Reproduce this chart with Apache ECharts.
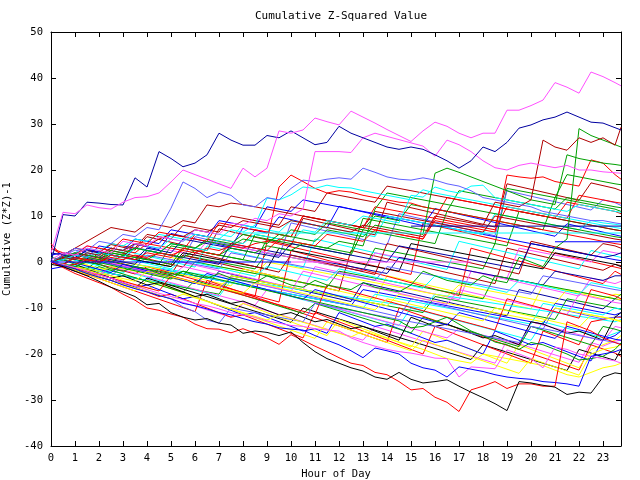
<!DOCTYPE html>
<html><head><meta charset="utf-8">
<script src="https://cdn.jsdelivr.net/npm/echarts@6/dist/echarts.min.js"></script>
<style>html,body{margin:0;padding:0;background:#fff}#c{width:640px;height:480px}</style>
</head><body><div id="c"></div>
<script>
const hours = [0,0.5,1,1.5,2,2.5,3,3.5,4,4.5,5,5.5,6,6.5,7,7.5,8,8.5,9,9.5,10,10.5,11,11.5,12,12.5,13,13.5,14,14.5,15,15.5,16,16.5,17,17.5,18,18.5,19,19.5,20,20.5,21,21.5,22,22.5,23,23.5,23.75];
const hourLabels = ['0','1','2','3','4','5','6','7','8','9','10','11','12','13','14','15','16','17','18','19','20','21','22','23'];
const yTicks = [-40,-30,-20,-10,0,10,20,30,40,50];

const s01 = [2,10.8,10.5,12.4,11.8,11.5,13,14,14.2,15,17.4,20,19,18,17,16,20.4,18.5,20.4,28.5,28,28.7,31.3,30.5,29.8,32.8,31.5,30.2,28.8,27.5,26.2,28.5,30.4,29.5,28,27,28,28,33,33,34,35.2,39,38,36.7,41.3,40.3,39,38.3];
const s02 = [0,10.3,10,13,12.8,12.5,12.4,18.3,16.3,24,22.5,20.7,21.5,23.3,28,26.5,25.4,25.4,27.5,27,28.5,27,25.5,26,29.5,28,27,26,25,24.5,25,24.5,23.3,22,20.4,22,25,24,26,29.1,29.8,30.9,31.5,32.6,31.5,30.4,30.2,29.2,28.7];
const s03 = [0.5,2,1.5,3,2.5,2,4.5,4,3.5,5.5,5,4.5,7,6.5,6,8.5,8,9.5,9,10.5,10,11.5,24,24,24,23.8,27,28,27.3,26.6,25.9,25.2,23,26.5,25.5,24,22,20.5,20,21,21.5,21,20.5,21,20,20,19.6,19.4,19.3];
const s04 = [0,1.5,3,2.5,4.5,4,6,5.5,7.5,7,11.7,17.4,16,14,15.2,14.5,12.4,12,14,13.5,16,17.8,17.5,18,18.3,18,20.4,19.5,18.5,18,17.8,18.3,17.8,17,16.5,15.5,14,13.5,13,12.5,12,11,10.5,10,9.5,9,9,8.5,8.3];
const s05 = [-0.5,-1,-2,-3,-4.2,-5.5,-6.5,-7.5,-9.3,-9,-11,-12,-12.6,-12.3,-13.3,-13.7,-15.5,-15,-15.3,-16,-15.2,-17.5,-19.5,-21,-22,-23,-23.7,-25,-25.5,-24,-25.5,-26.3,-26,-25.6,-27,-28.3,-29.5,-30.8,-32.3,-26,-26.3,-26.8,-27.2,-28.8,-28.3,-28.5,-25,-24.1,-24.3];
const s06 = [0,-1.2,-2.5,-3.5,-4.5,-5.5,-7,-8.3,-10,-10.5,-11.3,-12,-13.5,-14.5,-14.6,-15.4,-14.5,-15.5,-16.5,-17.9,-15.8,-17,-18.3,-19.5,-20.8,-22,-22.5,-24,-24.5,-26,-27.8,-27.5,-29.4,-30.5,-32.5,-27.8,-27,-26,-27.5,-26.5,-26.5,-27,-27,-13,-14,-15,-16.5,-17.5,-18];
const s07 = [0,-0.8,-1.5,-2.5,-3.3,-4,-5,-5.8,-6.5,-7.3,-8,-9,-9.5,-10.2,-11,-11.5,-12.3,-13,-13.5,-14.3,-14.6,-14.8,-16,-17,-18,-19.3,-20.8,-18.7,-19.3,-20,-22,-23,-23.5,-25,-22.8,-23.3,-23.8,-24.5,-25,-25.3,-25.5,-26,-26.2,-26.5,-27,-20.5,-20,-19.5,-19];
const s08 = [0,-0.5,-1.2,-2,-2.8,-3.5,-4.5,-5.2,-6,-6.8,-7.5,-8.2,-9,-9.5,-10.2,-11,-11.5,-12,-12.8,-13.3,-13.8,-14,-14.5,-14.8,-15,-16.5,-17.5,-18.3,-19,-19.5,-19.8,-20.3,-20.9,-21,-25,-22.8,-23,-23.2,-19.1,-20,-21,-23,-18.5,-19,-20,-20.5,-21,-21.5,-22];
const s09 = [0,1,0.5,2,1.5,3,2.5,4,3.5,5,6,5.5,7,6.5,8,7.5,9,8.5,8,7.5,9,8.5,8,7.5,7,6.5,8,7.5,7,6.5,6,5.5,10,9.5,9,8.5,8,13,12.5,12,13.5,26.5,25,24.3,27,26,27,25.4,29.3];
const s10 = [0,-0.5,-1,0,-0.5,-1.5,-2,-1,-1.5,-2.5,-3,-2,-3,-3.5,-2.5,-3.5,-4,-4.5,-3,-4,-5,-5.5,-4,-5,-5.5,-6,-4.5,-5.5,-6,-6.5,-5,-2,-3,-4,-4.5,-5,-3,-4,-4.5,1,0,-1,3,5,29,27.5,26.5,25.5,25];
const s11 = [0,1,2,1.5,1,2.5,2,3,2.5,2,4,3.5,3,4.5,4,3.5,5,4.5,4,6,5.5,5,4.5,7,6.5,6,5.5,8,7.5,7,6.5,6,19.3,20.4,19.5,18.5,17.5,16.5,15.5,14.5,13.5,13,12.5,23.3,22.5,22,21.5,21.2,21];
const s12 = [0,-0.5,1,0.5,0,1.5,1,0.5,2,1.5,1,3,2.5,2,1.5,4,3.5,3,2.5,5,4.5,4,3.5,6,5.5,5,4.5,7,6.5,6,5.5,5,9,8.5,8,7.5,7,6.5,18.9,18.5,18.2,18.5,17.5,17,16.5,22.2,21.5,19,18];
const s13 = [0,0.5,1.5,1,2,1.5,1,3,2.5,2,4,3.5,3,2.5,5,4.5,4,6,5.5,5,4.5,7,6.5,9,8.5,8,10,9.5,9,8.5,14.5,14.1,16.3,15.5,15,16.5,16.7,14,13.5,13,12.5,12,11.5,11,12.5,12,11.5,11,10.8];
const s14 = [0,1,0.5,2,1.5,3,2.5,4,3.5,3,5,4.5,6,5.5,5,7,6.5,8,13.9,13.5,14.6,16.3,16,16.7,16.2,16.1,15.5,15,14.5,14,13.5,15.7,15,14.5,14,13.5,13,12.5,12,11.5,11,10.5,10,9.5,9,8.5,8,7.5,7.3];
const s15 = [0,-1,-0.5,0.5,0,1,0.5,1.5,1,2,1.5,2.5,2,3,2.5,3.5,3,4,4.5,16.3,18.9,17.5,16,15,15.5,15.2,14.5,14,13.5,13,12.8,12,11.5,11,10.5,10,9.5,9,8.5,8,7.5,7,6.5,6,5.5,5,4.5,4,3.8];
const s16 = [0,0.5,-0.5,1,0.5,0,1.5,1,0.5,2,1.5,1,2.5,2,1.5,3,2.5,2,3.5,3,2.5,4,3.5,3,4.5,4,3.5,11.5,15,14.5,14,13.5,13,12.5,12,11.5,11,10.5,10,9.5,9,8.5,8,7.5,7,6.5,6,5.5,5.3];
const s17 = [0,1.5,3,4.5,6,7.5,7,6.5,8.5,8,7.5,9,8.5,12.4,12,12.8,12.5,12,11.5,11,10.5,10,9.5,9,8.5,8,7.5,11,10.5,10,9.5,9,8.5,8,7.5,7,6.5,10,9.5,9,8.5,8,7.5,7,6.5,6,5.5,5,4.8];
const s18 = [0,-0.5,-1.2,-1.8,-2.5,-3,-3.6,-4.2,-2,-2.6,-3.2,-3.8,-4.5,-5,-5.6,-6.2,-6.8,-4.5,-5,-5.6,-6.2,-6.8,-7.4,-8,-8.6,-9.2,-9.8,-10.4,-8,-8.6,-9.2,-9.8,-10.4,-11,-11.6,-12.2,-12.8,-10,-10.6,-11.2,-11.8,-12.4,-13,-13.6,-14.2,-11.5,-12,-12.6,-13];
const s19 = [0,-0.8,-1.6,-2.4,-3.2,-4,-4.8,-5.6,-6.4,-7.2,-8,-7,-7.8,-8.6,-9.4,-10.2,-11,-11.8,-12.6,-11.5,-12.3,-13.1,-13.9,-14.7,-15.5,-16.3,-15,-15.8,-16.6,-17.4,-18.2,-19,-20,-21,-21.5,-22,-20,-20.5,-21,-21.5,-22,-22.5,-23.5,-24.5,-25,-24,-23,-22.5,-22];
const s20 = [0,-0.6,-1.2,0.5,-0.1,-0.7,-1.3,-1.9,-2.5,-3.1,-3.7,-2,-2.6,-3.2,-3.8,-4.4,-5,-5.6,-6.2,-6.8,-7.4,-8,-8.6,-9.2,-9.8,-10.4,-11,-11.6,-12.2,-12.8,-14.3,-14,-13,-12,-13.5,-15,-16,-17.4,-18,-19,-17.5,-18,-19,-20,-21.3,-21,-20.5,-19,-17.6];
const s21 = [0,0.5,-0.2,-0.9,-1.6,-2.3,-0.5,-1.2,-1.9,-2.6,-3.3,-4,-4.7,-2.5,-3.2,-3.9,-4.6,-5.3,-6,-6.7,-7.4,-8.1,-6,-6.7,-7.4,-8.1,-8.8,-9.5,-10.2,-10.9,-11.6,-12.3,-13,-13.7,-11,-11.7,-12.4,-13.1,-13.8,-14.5,-15.2,-15.9,-16.6,-14,-14.7,-15.4,-16.1,-16.8,-17];
const s22 = [0,-0.8,-1.6,-2.4,-3.2,-4,-4.8,-5.6,-6.4,-7.2,-8,-9.8,-10.8,-12.6,-13.3,-10,-10.5,-11,-11.5,-12,-12.5,-13,-9,-9.5,-10,-10.5,-11,-11.5,-12,-12.5,-13,-13.5,-14,-14.5,-15,-15.5,-16,-16.5,-17,-17.5,-14,-14.5,-15,-15.5,-16,-16.5,-17,-17.5,-17.8];
const s23 = [0,1,0.4,-0.2,-0.8,1.5,0.9,0.3,-0.3,-0.9,-1.5,0.5,-0.1,-0.7,-1.3,-1.9,-2.5,-3.1,-1,-1.6,-2.2,-2.8,-3.4,-4,-1.5,-2.1,-2.7,-3.3,-3.9,-4.5,-5.1,-5.7,-3,-3.6,-4.2,-4.8,-5.4,-6,-6.6,-4,-4.6,-5.2,-5.8,-6.4,-7,-4.5,-5,-5.5,-5.8];
const s24 = [0,-0.7,-1.4,-2.1,-2.8,-3.5,-4.2,-4.9,-5.6,-6.3,-3,-3.7,-4.4,-5.1,-5.8,-6.5,-7.2,-7.9,-8.6,-9.3,-10,-10.7,-11.4,-5,-5.7,-6.4,-7.1,-7.8,-8.5,-9.2,-9.9,-10.6,-11.3,-12,-12.7,-13.4,-14.1,-14.8,-8,-8.7,-9.4,-10.1,-10.8,-11.5,-12.2,-6,-6.7,-7.4,-8];
const s25 = [2,1.5,1,2.5,2,1.5,1,0.5,3,2.5,2,5,4.5,4,3.5,3,2.5,2,1.5,1,4,3.5,3,2.5,2,1.5,1,0.5,0,3.5,3,2.5,2,1.5,1,0.5,0,-0.5,-1,-1.5,4,3.5,3,2.5,2,1.5,1,1.5,2];
const s26 = [0,-0.5,1,0.5,0,2,1.5,1,0.5,0,-0.5,3,2.5,2,1.5,1,0.5,0,5,4.5,4,3.5,3,2.5,2,1.5,7,6.5,6,5.5,5,4.5,4,11,10.5,10,9.5,9,8.5,8,7.5,7,14,13.5,13,12.5,12,11.5,11];
const s27 = [0,-0.6,-1.2,1,0.4,-0.2,-0.8,-1.4,-2,-2.6,-3.2,-1,-1.6,-2.2,-2.8,-3.4,-4,-4.6,-5.2,-5.8,-6.4,-2,-2.6,-3.2,-3.8,-4.4,-5,-5.6,-6.2,-6.8,-7.4,-8,-8.6,-9.2,-6,-6.6,-7.2,-7.8,-8.4,-9,-9.6,-10.2,-10.8,-11.4,-7,-7.6,-8.2,-8.8,-9];
const s28 = [0,-0.5,-1,-1.5,-2,-1,-1.5,-2,-2.5,-3,-3.5,-4,-4.5,-5,-5.5,-3,-3.5,-4,-4.5,-5,-5.5,-6,-6.5,-7,-7.5,-8,-8.5,-9,-9.5,-7,-7.5,-8,-8.5,-9,-9.5,-10,-10.5,-11,-11.5,-12,-12.5,-13,-10,-10.5,-11,-11.5,-12,-12.5,-12.8];
const s29 = [0,-1,-0.5,-1.5,-2.5,-3.5,-3,-4,-5,-4.5,-5.5,-6.5,-7.5,-7,-8,-9,-8.5,-9.5,-10.5,-11.5,-11,-12,-13,-12.5,-13.5,-14.5,-14,-15,-16,-17,-12,-13,-14,-13.5,-14.5,-15.5,-16.5,-16,-17,-18,-13,-13.5,-14.5,-15.5,-15,-16,-17,-12,-11];
const s30 = [0,0.8,1.6,1,0.4,2.5,1.9,1.3,0.7,0.1,-0.5,-1.1,2,1.4,0.8,0.2,-0.4,-1,-1.6,-2.2,1.5,0.9,0.3,-0.3,-0.9,-1.5,-2.1,-2.7,4,3.4,2.8,2.2,1.6,1,0.4,-0.2,-0.8,-1.4,-2,-2.6,4.5,3.9,3.3,2.7,2.1,1.5,4,3.5,3];
const s31 = [3,2,1.5,3.5,3,2.5,5,4.5,4,6.5,6,5.5,5,4.5,8.5,8,7.5,7,6.5,6,5.5,10,9.5,9,8.5,8,7.5,7,6.5,6,5.5,5,9.5,9,8.5,8,7.5,7,12,11.5,11,10.5,10,9.5,14.5,14,13.5,13,12.8];
const s32 = [0,1,2,3,2.5,4,3.5,5,4.5,6,5.5,5,7,6.5,6,5.5,8,7.5,7,6.5,9,8.5,8,7.5,7,6.5,6,5.5,10,9.5,9,8.5,8,7.5,7,6.5,6,10.5,10,9.5,9,8.5,8,7.5,7,9,8.5,8.2,8];
const s33 = [0,-0.8,-1.6,-2.4,-1,-1.8,-2.6,-3.4,-4.2,-5,-5.8,-6.6,-4,-4.8,-5.6,-6.4,-7.2,-8,-8.8,-9.6,-10.4,-11.2,-9,-9.8,-10.6,-11.4,-12.2,-13,-13.8,-14.6,-15.4,-12,-12.8,-13.6,-14.4,-15.2,-16,-16.8,-17.6,-18.4,-14,-14.8,-15.6,-16.4,-17.2,-18,-14,-14.6,-15];
const s34 = [1.5,2,1.5,1,3.5,3,2.5,5,4.5,4,7,6.5,6,5.5,9,8.5,8,7.5,12,11.5,11,13.5,13,12.5,12,11.5,11,10.5,10,9.5,9,8.5,8,7.5,7,6.5,6,5.5,5,4.5,4,3.5,3,2.5,2,1.5,1,0.5,0.3];
const s35 = [0,-0.5,-1,0.5,0,-0.5,-1,-1.5,1.5,1,0.5,0,-0.5,-1,-1.5,2,1.5,1,0.5,0,-0.5,-1,-1.5,-2,-2.5,-3,-3.5,-4,-1,-1.5,-2,-2.5,-3,-3.5,-4,-4.5,-5,-5.5,-6,-6.5,-7,-3,-3.5,-4,-4.5,-5,-5.5,-6,-6.2];
const s36 = [0,-0.7,-1.4,-2.1,-2.8,-1,-1.7,-2.4,-3.1,-3.8,-4.5,-5.2,-5.9,-6.6,-7.3,-8,-8.7,-9.4,-6,-6.7,-7.4,-8.1,-8.8,-9.5,-10.2,-10.9,-11.6,-12.3,-13,-13.7,-14.4,-15.1,-15.8,-16.5,-14.5,-15.2,-15.9,-16.6,-17.3,-18,-13,-13.7,-14.4,-15.1,-15.8,-16.5,-17.2,-14,-14.3];
const s37 = [0,-0.9,-1.8,-2.7,-3.6,-4.5,-5.4,-6.3,-4,-4.9,-5.8,-6.7,-7.6,-8.5,-9.4,-10.3,-11.2,-12.1,-13,-13.9,-14.8,-15.7,-16.6,-13,-13.9,-14.8,-15.7,-16.6,-17.5,-18.4,-19.3,-17,-17.9,-18.8,-19.7,-20.6,-21.5,-22.4,-23.3,-24.2,-21,-21.9,-22.8,-23.7,-24.6,-20,-19,-18.5,-18];
const s38 = [0,1,0.5,0,-0.5,1.5,1,0.5,0,-0.5,-1,2,1.5,1,0.5,0,-0.5,-1,-1.5,3,2.5,2,1.5,1,0.5,0,-0.5,-1,-1.5,-2,4,3.5,3,2.5,2,1.5,1,0.5,0,-0.5,-1,-1.5,2,1.5,1,0.5,0,-0.5,-1];
const s39 = [0,-0.5,-1,-1.5,0.5,0,-0.5,-1,-1.5,-2,-2.5,-3,0,-0.5,-1,-1.5,-2,-2.5,-3,-3.5,-4,-4.5,-5,-5.5,-2,-2.5,-3,-3.5,-4,-4.5,-5,-5.5,-6,-6.5,-7,-7.5,-8,-3,-3.5,-4,-4.5,-5,-5.5,-6,-6.5,-7,-7.5,-8,-7];
const s40 = [4,1,2,1.5,1,3,2.5,2,4,3.5,3,2.5,6,5.5,5,4.5,4,7,6.5,6,5.5,10,9.5,9,8.5,8,7.5,12,11.5,11,10.5,10,9.5,14,13.5,13,12.5,12,11.5,11,10.5,10,9.5,13,12.5,12,11.5,11,10.5];
const s41 = [3,1.5,3,2.5,2,4,3.5,3,6,5.5,5,8,7.5,7,6.5,10,9.5,9,8.5,8,12,11.5,11,15,14.5,14,13.5,13,16.5,16,15.5,15,14.5,14,13.5,13,12.5,12,11.5,11,10.5,10,9.5,9,8.5,8,7.5,7,6.8];
const s42 = [0,-0.6,-1.2,-1.8,-2.4,-3,-1,-1.6,-2.2,-2.8,-3.4,-4,-4.6,-5.2,-5.8,-3.5,-4.1,-4.7,-5.3,-5.9,-6.5,-7.1,-7.7,-8.3,-8.9,-9.5,-10.1,-10.7,-11.3,-11.9,-8,-8.6,-9.2,-9.8,-10.4,-11,-11.6,-12.2,-12.8,-13.4,-14,-14.6,-10,-10.6,-11.2,-11.8,-12.4,-12,-11.8];
const s43 = [0,-0.5,-1,-1.5,-2,-2.5,-3,-3.5,-4,-4.5,-2,-2.5,-3,-3.5,-4,-4.5,-5,-5.5,-6,-6.5,-7,-7.5,-8,-8.5,-9,-9.5,-10,-7,-7.5,-8,-8.5,-9,-9.5,-10,-10.5,-11,-11.5,-12,-12.5,-13,-13.5,-9,-9.5,-10,-10.5,-11,-11.5,-10,-10.2];
const s44 = [-1.5,-1,-2,-1.5,-2.5,-3.5,-4.5,-5.5,-5,-6,-7,-8,-7.5,-8.5,-9.5,-10.5,-11.5,-11,-12,-13,-14,-15,-14.5,-15.5,-11,-12,-13,-14,-13.5,-14.5,-15.5,-16.5,-17.5,-17,-18,-19,-20,-15,-16,-17,-18,-17.5,-18.5,-19.5,-20.5,-21.5,-17,-16,-15];
const s45 = [0,0.5,2,1.5,1,0.5,0,-0.5,2.5,2,1.5,1,0.5,0,-0.5,4,3.5,3,2.5,2,1.5,1,0.5,0,-0.5,-1,-1.5,-2,-2.5,1,0.5,0,-0.5,-1,-1.5,-2,-2.5,-3,-3.5,-4,-4.5,-5,-2,-2.5,-3,-3.5,-4,-3,-3];
const s46 = [0,0.5,0,-0.5,1,0.5,0,-0.5,-1,-1.5,1,0.5,0,-0.5,-1,-1.5,-2,-2.5,0,-0.5,-1,-1.5,-2,-2.5,-3,-3.5,-4,-4.5,-5,-5.5,-6,-6.5,-7,-7.5,-5,-5.5,-6,-6.5,-7,-7.5,-8,-8.5,-9,-6,-6.5,-7,-7.5,-8,-8.2];
const s47 = [0,1,2,3.5,3,2.5,2,4,3.5,3,2.5,2,1.5,4.5,4,3.5,3,2.5,2,1.5,1,0.5,0,-0.5,-1,-1.5,-2,2,1.5,1,0.5,0,-0.5,-1,-1.5,-2,-2.5,-3,-3.5,3,2.5,2,1.5,1,0.5,0,2.5,2,1.8];
const s48 = [1,0.5,1.5,1,0.5,2,1.5,3,2.5,2,4,3.5,3,5,4.5,4,6,5.5,5,4.5,7,6.5,6,8.5,8,7.5,7,10,9.5,9,12.5,12,11.5,11,15.5,15,14.5,14,13.5,13,12.5,12,11.5,14,13.5,13,12.5,12,11.8];
const s49 = [0,-1,-2,-3,-2.5,-3.5,-4.5,-5.5,-6.5,-7.5,-7,-8,-9,-10,-11,-12,-11.5,-12.5,-13.5,-14.5,-15.5,-16.5,-11,-12,-13,-14,-15,-16,-17,-18,-19,-20,-14,-15,-16,-17,-18,-19,-20,-21,-22,-15,-16,-17,-18,-13,-12.5,-12,-12];
const s50 = [0,1.2,0.6,2.8,2.2,1.6,1,3.9,3.3,2.7,6.2,5.6,5,4.4,3.8,3.2,7.5,6.9,6.3,9.8,9.2,8.6,8,7.4,12.1,11.5,10.9,10.3,9.7,9.1,8.5,7.9,11.6,11,10.4,9.8,9.2,8.6,8,7.4,6.8,6.2,5.6,8.3,7.7,7.1,6.5,5.9,5.6];
const s51 = [0,-0.7,0.9,0.2,-0.5,-1.2,-1.9,-2.6,-1,-1.7,-2.4,-3.1,-3.8,-4.5,-5.2,-5.9,-6.6,-7.3,-8,-8.7,2.5,1.8,1.1,0.4,-0.3,-1,-1.7,-2.4,-3.1,-3.8,-4.5,-5.2,-5.9,-6.6,-7.3,3,2.3,1.6,0.9,0.2,-0.5,-1.2,-1.9,-2.6,-3.3,-4,-4.7,-2,-2.7];
const s52 = [0,-0.4,-0.8,-1.2,-1.6,-2,-2.4,-0.5,-0.9,-1.3,-1.7,-2.1,-2.5,-2.9,-3.3,-3.7,-4.1,-4.5,-4.9,-5.3,-5.7,-6.1,-6.5,-6.9,-7.3,-7.7,-8.1,-8.5,-8.9,-9.3,-9.7,-10.1,-7,-7.4,-7.8,-8.2,-8.6,-9,-9.4,-9.8,-10.2,-10.6,-11,-11.4,-11.8,-12.2,-12.6,-13,-12.5];
const s53 = [0,0.9,1.8,2.7,2.1,3.8,3.2,2.6,5.5,4.9,4.3,3.7,3.1,2.5,7.2,6.6,6,5.4,4.8,4.2,3.6,9.5,8.9,8.3,7.7,7.1,6.5,5.9,13,12.4,11.8,11.2,10.6,10,9.4,8.8,8.2,7.6,17,16.4,15.8,15.2,14.6,14,13.4,17.2,16.6,16,15.5];
const s54 = [0,-1,-2,-1,-2,-3,-4,-5,-6,-4.5,-5.5,-6.5,-7.5,-8.5,-9.5,-10.5,-9,-10,-11,-12,-13,-14,-15,-16,-12.5,-13.5,-14.5,-15.5,-16.5,-17.5,-18.5,-15,-16,-17,-18,-19,-20,-21,-22,-18,-19,-20,-21,-22,-23,-19,-18,-17,-16];
const s55 = [0,0.5,1.8,1.2,0.6,0,-0.6,-1.2,-1.8,-2.4,0.5,-0.1,-0.7,-1.3,-1.9,-2.5,-3.1,-3.7,-4.3,-4.9,-5.5,-6.1,-1,-1.6,-2.2,-2.8,-3.4,-4,-4.6,-5.2,-5.8,-6.4,-7,-7.6,-8.2,-2,-2.6,-3.2,-3.8,-4.4,-5,-5.6,-6.2,-6.8,-7.4,-3.5,-4.1,-4.7,-4.2];
const s56 = [0,1,0.5,0,2,1.5,1,0.5,0,-0.5,3.5,3,2.5,2,1.5,1,0.5,6,5.5,5,4.5,4,3.5,3,2.5,2,9.5,9,8.5,8,7.5,7,6.5,6,5.5,5,4.5,4,3.5,11,10.5,10,9.5,9,8.5,8,7.5,7,6.8];
const s57 = [0,-0.8,-1.6,-2.4,-3.2,-4,-4.8,-5.6,-3.5,-4.3,-5.1,-5.9,-6.7,-7.5,-8.3,-9.1,-9.9,-10.7,-11.5,-12.3,-13.1,-10,-10.8,-11.6,-12.4,-13.2,-14,-14.8,-15.6,-16.4,-17.2,-18,-18.8,-19.6,-20.4,-21.2,-18,-18.8,-19.6,-20.4,-21.2,-22,-22.8,-23.6,-19,-19.8,-20.6,-21.4,-19];
const s58 = [0,1.3,2.6,2,1.4,0.8,0.2,3.2,2.6,2,1.4,0.8,5.5,4.9,4.3,3.7,3.1,2.5,1.9,1.3,8.5,7.9,7.3,6.7,6.1,5.5,4.9,4.3,3.7,10.5,9.9,9.3,8.7,8.1,7.5,6.9,6.3,5.7,15.5,14.9,14.3,13.7,13.1,12.5,11.9,11.3,13.5,12.9,12.3];
const s59 = [0,-0.9,-1.8,-2.7,-3.6,-4.5,-5.4,-6.3,-7.2,-8.1,-9,-9.9,-10.8,-4,-4.9,-5.8,-6.7,-7.6,-8.5,-9.4,-10.3,-11.2,-12.1,-13,-13.9,-14.8,-15.7,-16.6,-17.5,-10,-10.9,-11.8,-12.7,-13.6,-14.5,-15.4,-16.3,-17.2,-18.1,-19,-19.9,-20.8,-21.7,-22.6,-23.5,-18,-18.9,-19.8,-20.5];
const s60 = [0,0.8,1.6,1,0.4,-0.2,2.5,1.9,1.3,0.7,0.1,-0.5,-1.1,3.5,2.9,2.3,1.7,1.1,0.5,-0.1,-0.7,-1.3,5,4.4,3.8,3.2,2.6,2,1.4,0.8,0.2,-0.4,-1,-1.6,4.5,3.9,3.3,2.7,2.1,1.5,0.9,0.3,-0.3,-0.9,-1.5,2.5,1.9,1.3,1];
const s61 = [0,-0.5,-1,-1.5,-2,-2.5,-3,-3.5,-4,-4.5,-5,-5.5,-6,-6.5,-7,-3,-3.5,-4,-4.5,-5,-5.5,-6,-6.5,-7,-7.5,-8,-8.5,-9,-9.5,-10,-10.5,-11,-7.5,-8,-8.5,-9,-9.5,-10,-10.5,-11,-11.5,-12,-12.5,-8,-8.5,-9,-9.5,-10,-10.3];
const s62 = [0,-0.6,-1.2,0.8,0.2,-0.4,-1,-1.6,-2.2,-2.8,-3.4,-4,-4.6,-5.2,-2,-2.6,-3.2,-3.8,-4.4,-5,-5.6,-6.2,-6.8,-7.4,-8,-8.6,-4.5,-5.1,-5.7,-6.3,-6.9,-7.5,-8.1,-8.7,-9.3,-9.9,-10.5,-11.1,-11.7,-6,-6.6,-7.2,-7.8,-8.4,-9,-9.6,-10.2,-8,-8.3];
const s63 = [0,0.5,-0.1,-0.7,-1.3,-1.9,0.2,-0.4,-1,-1.6,-2.2,-2.8,-3.4,-4,-4.6,-5.2,-1.5,-2.1,-2.7,-3.3,-3.9,-4.5,-5.1,-5.7,-6.3,-6.9,-7.5,-8.1,-3,-3.6,-4.2,-4.8,-5.4,-6,-6.6,-7.2,-7.8,-8.4,-9,-9.6,-10.2,-5,-5.6,-6.2,-6.8,-7.4,-8,-7,-7.2];
const s64 = [0,-0.6,1.5,0.9,0.3,-0.3,-0.9,-1.5,-2.1,-2.7,-3.3,-3.9,-4.5,-5.1,-5.7,-6.3,-6.9,-7.5,4.5,3.9,3.3,2.7,2.1,1.5,0.9,0.3,-0.3,-0.9,-1.5,-2.1,-2.7,8.5,7.9,7.3,6.7,6.1,5.5,4.9,4.3,3.7,3.1,2.5,1.9,1.3,0.7,0.1,-0.5,-1.1,-1.4];
const s65 = [0,-0.8,-1.6,-2.4,-3.2,-4,-4.8,-5.6,-6.4,-7.2,-8,-8.8,-9.6,-10.4,-11.2,-12,-9,-9.8,-10.6,-11.4,-12.2,-13,-13.8,-14.6,-15.4,-16.2,-17,-14,-14.8,-15.6,-16.4,-17.2,-18,-18.8,-19.6,-20.4,-21.2,-22,-17,-17.8,-18.6,-19.4,-20.2,-21,-21.8,-17.5,-18.3,-17.2,-17];
const s66 = [0,1,2,1.4,0.8,0.2,-0.4,-1,-1.6,-2.2,-2.8,1.5,0.9,0.3,-0.3,-0.9,-1.5,-2.1,-2.7,-3.3,-3.9,-4.5,-5.1,-5.7,-6.3,2.5,1.9,1.3,0.7,0.1,-0.5,-1.1,-1.7,-2.3,-2.9,-3.5,-4.1,-4.7,3,2.4,1.8,1.2,0.6,0,-0.6,-1.2,-1.8,-0.5,-0.8];
const s67 = [0,-0.5,-1,-1.5,-2,-2.5,-3,-3.5,-4,-1.5,-2,-2.5,-3,-3.5,-4,-4.5,-5,-5.5,-6,-6.5,-7,-7.5,-8,-8.5,-9,-9.5,-6,-6.5,-7,-7.5,-8,-8.5,-9,-9.5,-10,-10.5,-11,-11.5,-12,-12.5,-13,-13.5,-9,-9.5,-10,-10.5,-11,-11.5,-11];
const s68 = [0,0.5,1,0.5,0,1.5,1,0.5,0,-0.5,-1,1.5,1,0.5,0,-0.5,-1,-1.5,2,1.5,1,0.5,0,-0.5,-1,-1.5,-2,3,2.5,2,1.5,1,0.5,0,-0.5,-1,-1.5,4,16,15.5,15,14.5,14,19,18.5,18,17.5,17,16.8];
const s69 = [0,-0.7,-1.4,-2.1,-0.5,-1.2,-1.9,-2.6,-3.3,-4,-4.7,-5.4,-6.1,-6.8,-7.5,-4,-4.7,-5.4,-6.1,-6.8,-7.5,-8.2,-8.9,-9.6,-10.3,-11,-11.7,-12.4,-13.1,-13.8,-10,-10.7,-11.4,-12.1,-12.8,-13.5,-14.2,-14.9,-15.6,-16.3,-17,-13,-13.7,-14.4,-15.1,-15.8,-16.5,-15.5,-15];

// flat (constant) series, each with its own time span
const flatHoursA = [0,10],     flatValsA = [0,0];
const flatHoursB = [10,17.5],  flatValsB = [0,0];
const flatHoursC = [8,23.75],  flatValsC = [6.3,6.3];
const flatHoursD = [15,23.75], flatValsD = [7.8,7.8];
const flatHoursE = [21,23.75], flatValsE = [4.4,4.4];

const red='#ff0000', green='#00a000', blue='#0000ff', mag='#ff50ff', cyan='#00ffff',
      dred='#b00000', yel='#ffff00', blk='#000000', dblue='#0000a0', mblue='#6060ff';

const lineSets = [s01,s02,s03,s04,s05,s06,s07,s08,s09,s10,s11,s12,s13,s14,s15,s16,s17,s18,s19,s20,s21,s22,s23,s24,s25,s26,s27,s28,s29,s30,s31,s32,s33,s34,s35,s36,s37,s38,s39,s40,s41,s42,s43,s44,s45,s46,s47,s48,s49,s50,s51,s52,s53,s54,s55,s56,s57,s58,s59,s60,s61,s62,s63,s64,s65,s66,s67,s68,s69];
const lineColors = [mag,dblue,mag,mblue,blk,red,blue,mag,dred,green,green,red,cyan,cyan,red,green,dred,yel,yel,green,blue,mblue,cyan,red,dblue,green,mag,yel,blk,dred,red,cyan,green,blue,mblue,mag,yel,blk,green,red,dred,mblue,cyan,blue,dblue,yel,mag,green,red,
                    blue,red,cyan,dred,yel,mag,green,blk,mblue,red,cyan,green,dblue,yel,red,mag,dred,blue,green,cyan];
const flatSets = [[flatHoursA,flatValsA,blue],[flatHoursB,flatValsB,mag],[flatHoursC,flatValsC,cyan],[flatHoursD,flatValsD,dblue],[flatHoursE,flatValsE,blue]];

const FONT = 'DejaVu Sans Mono';
const series = [];
for (let k = lineSets.length - 1; k >= 0; k--) {
  const arr = lineSets[k];
  series.push({
    type:'line', showSymbol:false, silent:true, animation:false,
    data: hours.map((h,i)=>[h, arr[i]]),
    lineStyle:{color:lineColors[k], width:1},
    itemStyle:{color:lineColors[k]}
  });
}
flatSets.forEach(([hs, vs, col]) => {
  series.push({
    type:'line', showSymbol:false, silent:true, animation:false,
    data: hs.map((h,i)=>[h, vs[i]]),
    lineStyle:{color:col, width:1}, itemStyle:{color:col}
  });
});

const axisCommon = {
  axisLine:{show:true, onZero:false, lineStyle:{color:'#000', width:1}},
  axisTick:{show:true, inside:true, length:5, lineStyle:{color:'#000', width:1}},
  splitLine:{show:false}
};

const chart = echarts.init(document.getElementById('c'), null, {renderer:'canvas'});
chart.setOption({
  animation:false,
  backgroundColor:'#fff',
  title:{text:'Cumulative Z-Squared Value', left:336, top:6, textAlign:'center',
    textStyle:{fontFamily:FONT, fontSize:11, fontWeight:'normal', color:'#000'}},
  grid:{left:51, right:19, top:32, bottom:34, containLabel:false, outerBoundsMode:'none'},
  xAxis:[
    Object.assign({type:'value', min:0, max:23.75, interval:1, position:'bottom',
      name:'Hour of Day', nameLocation:'middle', nameGap:20,
      nameTextStyle:{fontFamily:FONT, fontSize:10.5, color:'#000'},
      axisLabel:{color:'#000', fontFamily:FONT, fontSize:10.5, margin:7,
        formatter:(v)=> Number.isInteger(v) && v < hourLabels.length ? hourLabels[v] : ''}}, axisCommon),
    Object.assign({type:'value', min:0, max:23.75, interval:1, position:'top',
      axisLabel:{show:false}}, axisCommon)
  ],
  yAxis:[
    Object.assign({type:'value', min:yTicks[0], max:yTicks[yTicks.length-1], interval:10, position:'left',
      name:'Cumulative (Z*Z)-1', nameLocation:'middle', nameGap:33,
      nameTextStyle:{fontFamily:FONT, fontSize:10.5, color:'#000'},
      axisLabel:{color:'#000', fontFamily:FONT, fontSize:10.5, margin:8}}, axisCommon),
    Object.assign({type:'value', min:yTicks[0], max:yTicks[yTicks.length-1], interval:10, position:'right',
      axisLabel:{show:false}}, axisCommon)
  ],
  series: series
});
</script>
</body></html>
